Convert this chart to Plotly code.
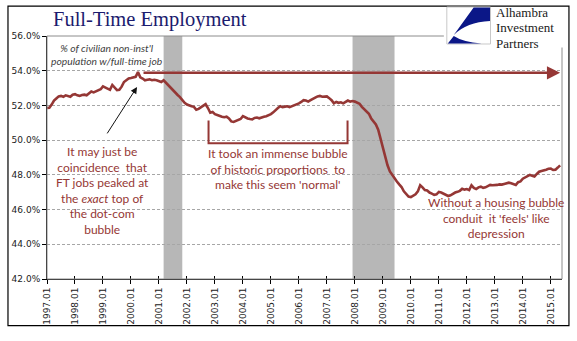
import plotly.graph_objects as go

# ---------------- data ----------------
years = list(range(1997, 2016))
last_month_2015 = 5

ft_share = [
    # 1997
    51.85, 51.87, 52.05, 52.28, 52.40, 52.52, 52.55, 52.50, 52.58, 52.52, 52.50, 52.62,
    # 1998
    52.65, 52.58, 52.55, 52.60, 52.62, 52.58, 52.68, 52.80, 52.75, 52.82, 52.90, 52.93,
    # 1999
    53.10, 53.02, 52.95, 52.90, 53.18, 53.05, 52.88, 52.90, 53.08, 53.35, 53.45, 53.55,
    # 2000
    53.58, 53.60, 53.65, 53.92, 53.62, 53.55, 53.45, 53.48, 53.50, 53.45, 53.48, 53.45,
    # 2001
    53.40, 53.35, 53.45, 53.30, 53.15, 53.02, 52.90, 52.75, 52.60, 52.48, 52.30, 52.15,
    # 2002
    52.05, 51.98, 51.95, 51.92, 51.75, 51.80, 51.88, 51.95, 52.07, 51.85, 51.58, 51.62,
    # 2003
    51.50, 51.45, 51.38, 51.35, 51.32, 51.35, 51.25, 51.08, 51.05, 51.12, 51.18, 51.22,
    # 2004
    51.38, 51.30, 51.25, 51.22, 51.20, 51.28, 51.30, 51.26, 51.32, 51.35, 51.38, 51.42,
    # 2005
    51.50, 51.60, 51.75, 51.85, 51.95, 51.90, 51.93, 51.95, 51.90, 51.95, 52.00, 52.05,
    # 2006
    52.12, 52.20, 52.30, 52.28, 52.22, 52.30, 52.40, 52.45, 52.52, 52.55, 52.50, 52.50,
    # 2007
    52.52, 52.42, 52.30, 52.12, 52.20, 52.15, 52.18, 52.12, 52.20, 52.28, 52.22, 52.25,
    # 2008
    52.22, 52.15, 52.10, 51.92, 51.78, 51.62, 51.52, 51.25, 51.05, 50.90, 50.60, 50.05,
    # 2009
    49.60, 49.10, 48.55, 48.20, 47.98, 47.80, 47.62, 47.45, 47.30, 47.05, 46.90, 46.75,
    # 2010
    46.72, 46.78, 46.88, 47.05, 47.40, 47.28, 47.12, 47.10, 46.98, 46.92, 46.85, 46.88,
    # 2011
    47.02, 46.98, 46.92, 46.85, 46.78, 46.82, 46.92, 46.98, 47.02, 47.08, 47.20, 47.15,
    # 2012
    47.18, 47.12, 47.40, 47.25, 47.18, 47.28, 47.32, 47.25, 47.28, 47.35, 47.42, 47.40,
    # 2013
    47.40, 47.42, 47.45, 47.44, 47.48, 47.50, 47.55, 47.52, 47.45, 47.42, 47.58, 47.62,
    # 2014
    47.78, 47.85, 47.92, 48.00, 47.95, 47.90, 48.05, 48.18, 48.22, 48.28, 48.30, 48.35,
    # 2015
    48.36, 48.28, 48.30, 48.42, 48.55,
]

recessions = [("2001.03", "2001.11"), ("2007.12", "2009.06")]
peak_level = 53.88
logo_lines = ["Alhambra", "Investment", "Partners"]

# month labels (categories)
months = []
for y in years:
    for m in range(1, 13):
        if y == 2015 and m > last_month_2015:
            break
        months.append(f"{y}.{m:02d}")
x_idx = list(range(len(months)))
tick_labels = [f"{y}.01" for y in years]
tick_vals = [months.index(t) for t in tick_labels]

# ---------------- geometry helpers (pixel -> paper) ----------------
W, H = 577, 341
L, R, T, B = 43.3, 562.0, 36.0, 279.3
def px(x):
    return (x - L) / (R - L)
def py(y):
    return (B - y) / (B - T)
XMAX = 220.8
def xi(x):  # pixel -> data index
    return (x - L) / (R - L) * XMAX
def yv(y):  # pixel -> data value
    return 56 - (y - T) / (B - T) * 14

RED = "#953735"
fig = go.Figure()
fig.add_trace(go.Scatter(x=x_idx, y=ft_share, mode="lines",
                         line=dict(color=RED, width=2.6), hoverinfo="skip"))
# helper trace for crossing tick marks axis
fig.add_trace(go.Scatter(x=[0], y=[42], xaxis="x2", mode="markers",
                         marker=dict(opacity=0), hoverinfo="skip"))

shapes = []
for a, b in recessions:
    shapes.append(dict(type="rect", xref="x", yref="paper",
                       x0=months.index(a), x1=months.index(b), y0=0, y1=1,
                       fillcolor="#B7B7B7", line=dict(width=0), layer="between"))
# plot-area border (gray)
shapes.append(dict(type="rect", xref="paper", yref="paper", x0=0, x1=1, y0=0, y1=1,
                   line=dict(color="#8C8C8C", width=1)))
# white patch behind logo
shapes.append(dict(type="rect", xref="paper", yref="paper",
                   x0=px(443), x1=px(566), y0=py(47.5), y1=py(7),
                   fillcolor="white", line=dict(width=0)))
# outer chart border
shapes.append(dict(type="rect", xref="paper", yref="paper",
                   x0=px(4), x1=px(569), y0=py(326), y1=py(6),
                   line=dict(color="black", width=1.2)))
# logo frame
shapes.append(dict(type="rect", xref="paper", yref="paper",
                   x0=px(446), x1=px(490), y0=py(44), y1=py(7),
                   fillcolor="white", line=dict(color="#C8C8C8", width=1)))
def P(x, y):
    return f"{px(x):.5f},{py(y):.5f}"
upper = (f"M {P(473,7.5)} L {P(489.5,7.5)} L {P(489.5,21)} "
         f"Q {P(466,22)} {P(453,35)} Z")
lower = (f"M {P(453,36)} Q {P(462,42)} {P(481,43.5)} L {P(447,43.5)} Z")
for pth in (upper, lower):
    shapes.append(dict(type="path", xref="paper", yref="paper", path=pth,
                       fillcolor="#0B1787", line=dict(width=0)))
# bracket
bx0, bx1 = xi(206), xi(346)
by0, by1 = yv(120.5), yv(143.3)
shapes.append(dict(type="path", xref="x", yref="y",
                   path=f"M {bx0},{by0} L {bx0},{by1} L {bx1},{by1} L {bx1},{by0}",
                   line=dict(color=RED, width=2)))

TXT = dict(family="Lato, sans-serif", size=12, color=RED)
logo_text = "<br>".join(f'<span style="font-size:13px">{t}</span>' for t in logo_lines)
annotations = [
    dict(text="Full-Time Employment", x=px(147.5), y=py(19), xref="paper", yref="paper",
         showarrow=False, xanchor="center", yanchor="middle",
         font=dict(family="Liberation Serif, serif", size=20.5, color="#1B1B6E")),
    dict(text=logo_text, x=px(494), y=py(27.5), xref="paper", yref="paper",
         showarrow=False, xanchor="left", yanchor="middle", align="left",
         font=dict(family="Liberation Serif, serif", size=11.8, color="#1A1A1A")),
    dict(text="<i>% of civilian non-inst'l<br>population w/full-time job</i>",
         x=px(104), y=py(55), xref="paper", yref="paper", showarrow=False,
         xanchor="center", yanchor="middle",
         font=dict(family="Lato, sans-serif", size=10.3, color="#404040")),
    dict(text="It may just be<br>coincidence  that<br>FT jobs peaked at<br>the <i>exact</i> top of<br>the dot-com<br>bubble",
         x=px(99), y=py(190.5), xref="paper", yref="paper", showarrow=False,
         xanchor="center", yanchor="middle", font=TXT),
    dict(text="It took an immense bubble<br>of historic proportions  to<br>make this seem 'normal'",
         x=px(276), y=py(169), xref="paper", yref="paper", showarrow=False,
         xanchor="center", yanchor="middle", font=TXT),
    dict(text="Without a housing bubble<br>conduit  it 'feels' like<br>depression",
         x=px(496), y=py(218.5), xref="paper", yref="paper", showarrow=False,
         xanchor="center", yanchor="middle", font=TXT),
    # horizontal arrow at the peak level
    dict(text="", x=months.index("2015.05"), y=peak_level, ax=xi(139), ay=peak_level,
         xref="x", yref="y", axref="x", ayref="y", showarrow=True,
         arrowhead=2, arrowsize=1.1, arrowwidth=2.4, arrowcolor=RED, standoff=0),
    # black pointer arrow
    dict(text="", x=xi(134), y=yv(87), ax=xi(103), ay=yv(135),
         xref="x", yref="y", axref="x", ayref="y", showarrow=True,
         arrowhead=2, arrowsize=1.3, arrowwidth=1, arrowcolor="#111111", standoff=0),
]

TICKFONT = dict(family="DejaVu Sans, sans-serif", size=9, color="#222222")
fig.update_layout(
    width=W, height=H, autosize=False,
    margin=dict(l=L, r=W - R, t=T, b=H - B, pad=0),
    paper_bgcolor="white", plot_bgcolor="white",
    showlegend=False,
    xaxis=dict(range=[0, XMAX], tickvals=tick_vals, ticktext=tick_labels,
               tickangle=-90, tickfont=TICKFONT, ticks="outside", ticklen=4,
               tickcolor="black", showline=True, linecolor="black", linewidth=1,
               showgrid=False, zeroline=False, fixedrange=True),
    xaxis2=dict(range=[0, XMAX], tickvals=tick_vals, ticktext=[""] * len(tick_vals),
                overlaying="x", anchor="y", side="bottom", ticks="inside", ticklen=3,
                tickcolor="black", showline=False, showgrid=False, zeroline=False,
                showticklabels=False),
    yaxis=dict(range=[42, 56], dtick=2, tick0=42, tickformat=".1f", ticksuffix="%",
               tickfont=TICKFONT, ticks="outside", ticklen=4, tickcolor="black",
               showline=True, linecolor="black", linewidth=1,
               showgrid=True, gridcolor="#A6A6A6", gridwidth=1, griddash="3px,2px",
               zeroline=False),
    shapes=shapes,
    annotations=annotations,
)

fig.write_html("out.html")
